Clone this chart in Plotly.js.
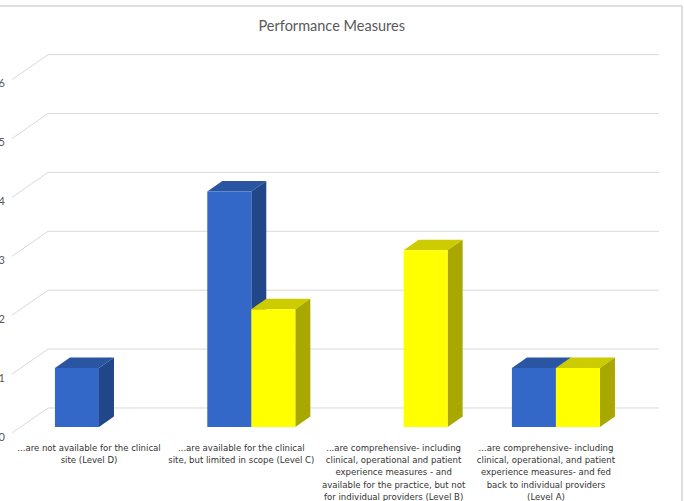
<!DOCTYPE html>
<html>
<head>
<meta charset="utf-8">
<script src="https://cdn.plot.ly/plotly-3.0.1.min.js"></script>
<style>
html,body{margin:0;padding:0;background:#fff;}
#chart{width:684px;height:501px;}
</style>
</head>
<body>
<div id="chart"></div>
<script>
// ---- data ----
const categories = [
  "...are not available for the clinical<br>site (Level D)",
  "...are available for the clinical<br>site, but limited in scope (Level C)",
  "...are comprehensive- including<br>clinical, operational and patient<br>experience measures - and<br>available for the practice, but not<br>for individual providers (Level B)",
  "...are comprehensive- including<br>clinical, operational, and patient<br>experience measures- and fed<br>back to individual providers<br>(Level A)"
];
const blueValues = [1, 4, 0, 1];
const yellowValues = [0, 2, 3, 1];
const yTickValues = [0, 1, 2, 3, 4, 5, 6];
const chartTitle = "Performance Measures";

// ---- geometry / style ----
const W = 684, H = 501;
const M = {l: 12, r: 19, t: 40, b: 61};
const plotW = W - M.l - M.r, plotH = H - M.t - M.b;
const xRange = [-0.571, 3.716];
const yRange = [-0.221, 6.571];
const pxPerX = plotW / (xRange[1] - xRange[0]);
const pxPerY = plotH / (yRange[1] - yRange[0]);
const px2x = px => xRange[0] + (px - M.l) / pxPerX;
const bargap = 0.422;
const barW = (1 - bargap) / 2;
const DX = 15 / pxPerX, DY = 10.5 / pxPerY;       // bar depth
const BACK_DY = 19 / pxPerY;                       // back wall offset
const FRONT_DY = -6 / pxPerY;                      // front edge offset
const backX0 = px2x(48), backX1 = px2x(659);
const gridColor = '#d9d9d9';

const colors = {
  blue:   {front: '#3468C8', top: '#2A55A2', side: '#214789'},
  yellow: {front: '#FFFF00', top: '#CCCC00', side: '#A8A800'}
};

const shapes = [];
// gridlines (back wall) and diagonal floor/side lines
yTickValues.forEach(k => {
  shapes.push({type: 'line', layer: 'below', xref: 'x', yref: 'y',
    x0: backX0, x1: backX1, y0: k + BACK_DY, y1: k + BACK_DY,
    line: {color: gridColor, width: 1}});
  shapes.push({type: 'line', layer: 'below', xref: 'x', yref: 'y',
    x0: xRange[0], x1: backX0, y0: k + FRONT_DY, y1: k + BACK_DY,
    line: {color: gridColor, width: 1}});
});

function addBox(xl, v, c) {
  if (v <= 0) return;
  const xr = xl + barW;
  shapes.push({type: 'path', layer: 'below', xref: 'x', yref: 'y',
    path: `M${xl},${v} L${xl + DX},${v + DY} L${xr + DX},${v + DY} L${xr},${v} Z`,
    fillcolor: c.top, line: {width: 0}});
  shapes.push({type: 'path', layer: 'below', xref: 'x', yref: 'y',
    path: `M${xr},0 L${xr},${v} L${xr + DX},${v + DY} L${xr + DX},${DY} Z`,
    fillcolor: c.side, line: {width: 0}});
}
categories.forEach((_, k) => {
  addBox(k - barW, blueValues[k], colors.blue);
  addBox(k, yellowValues[k], colors.yellow);
});

// frame lines of the picture (top & right)
shapes.push({type: 'line', xref: 'paper', yref: 'paper',
  x0: -M.l / plotW, x1: (682 - M.l) / plotW, y0: (H - M.b - 6) / plotH, y1: (H - M.b - 6) / plotH,
  line: {color: '#d4d4d4', width: 1.5}});
shapes.push({type: 'line', xref: 'paper', yref: 'paper',
  x0: (682 - M.l) / plotW, x1: (682 - M.l) / plotW, y0: (H - M.b - 6) / plotH, y1: -M.b / plotH,
  line: {color: '#d4d4d4', width: 1.5}});

const xIdx = categories.map((_, i) => i);
const traces = [
  {type: 'bar', name: 'Series 1', x: xIdx, y: blueValues,
   marker: {color: colors.blue.front, line: {width: 0}}, hoverinfo: 'y'},
  {type: 'bar', name: 'Series 2', x: xIdx, y: yellowValues,
   marker: {color: colors.yellow.front, line: {width: 0}}, hoverinfo: 'y'}
];

const layout = {
  width: W, height: H,
  margin: M,
  paper_bgcolor: '#ffffff', plot_bgcolor: 'rgba(0,0,0,0)',
  showlegend: false,
  barmode: 'group', bargap: bargap, bargroupgap: 0,
  title: {text: chartTitle, x: 0.485, xanchor: 'center', y: 0.948, yanchor: 'middle',
          font: {family: 'Lato, "Open Sans", sans-serif', size: 14.5, color: '#595959'}},
  xaxis: {range: xRange, showgrid: false, zeroline: false, showline: false, ticks: '',
          tickmode: 'array', tickvals: xIdx.map(k => k - 10 / pxPerX), ticktext: categories,
          tickangle: 0, automargin: false,
          tickfont: {family: '"Liberation Sans Narrow", "DejaVu Sans Condensed", sans-serif', size: 9.5, color: '#333333'}},
  yaxis: {range: yRange, showgrid: false, zeroline: false, showline: false, ticks: '',
          tickmode: 'array', tickvals: yTickValues.map(k => k - 10 / pxPerY),
          ticktext: yTickValues.map(String), automargin: false, ticklabelstandoff: 6,
          tickfont: {family: 'Lato, "Open Sans", sans-serif', size: 11, color: '#595959'}},
  shapes: shapes
};

Plotly.newPlot('chart', traces, layout, {displayModeBar: false, staticPlot: true});
</script>
</body>
</html>
